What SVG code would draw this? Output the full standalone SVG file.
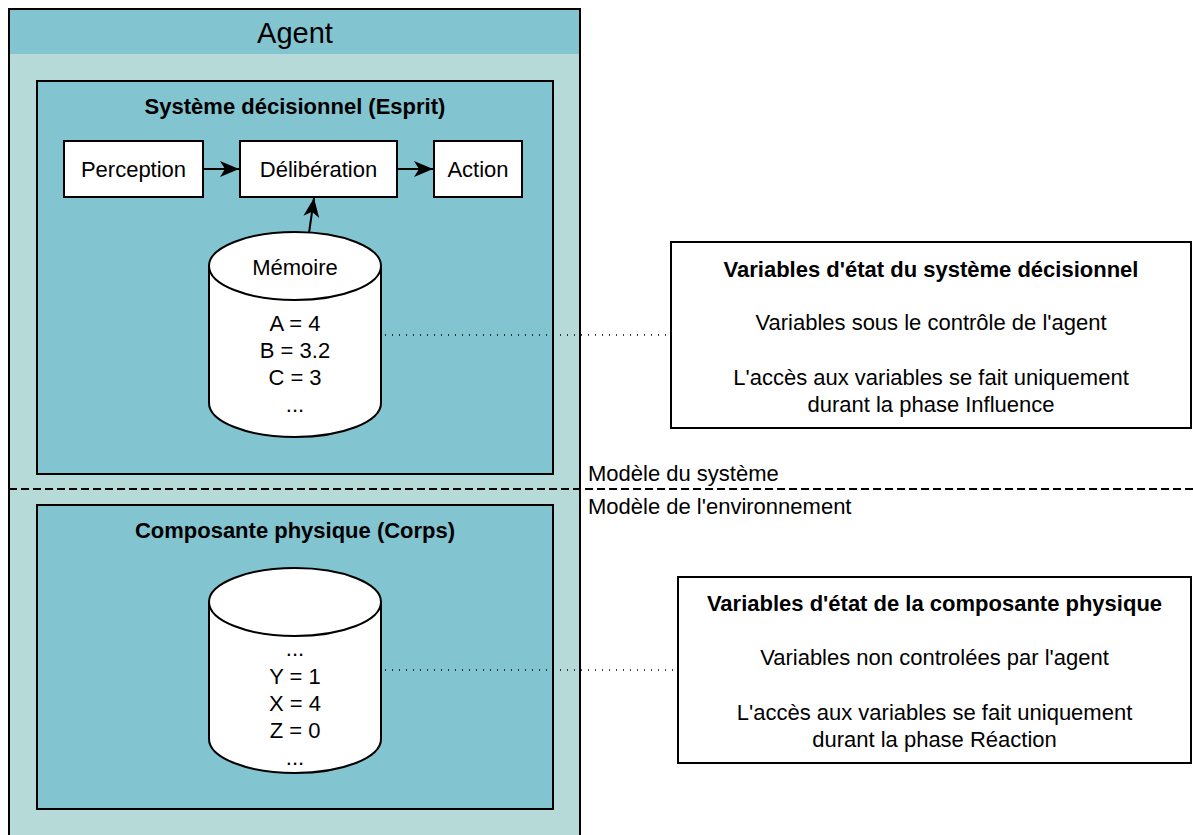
<svg xmlns="http://www.w3.org/2000/svg" width="1193" height="835" viewBox="0 0 1193 835">
<style>
text{font-family:"Liberation Sans",Arial,sans-serif;font-size:22px;fill:#000;text-anchor:middle}
.b{font-weight:bold}
.white{fill:#fff;stroke:#000;stroke-width:2}
.teal{fill:#82C4D0;stroke:#000;stroke-width:2}
.conn{stroke:#000;stroke-width:2;fill:none}
.dot{stroke:#000;stroke-width:1.5;stroke-dasharray:1 6;fill:none}
</style>
<defs>
<marker id="arr" markerUnits="userSpaceOnUse" markerWidth="22" markerHeight="18" refX="19" refY="8" orient="auto">
<path d="M0,0 L19,8 L0,16 L5,8 Z" fill="#000"/>
</marker>
</defs>
<rect width="1193" height="835" fill="#fff"/>
<g id="agent">
<rect x="9" y="9" width="571" height="840" fill="#B5DAD7" stroke="#000" stroke-width="2"/>
<rect x="10" y="10" width="569" height="44" fill="#82C4D0"/>
<text x="295" y="43" style="font-size:29px">Agent</text>
</g>
<g id="esprit">
<rect class="teal" x="37" y="81" width="516" height="393"/>
<text class="b" x="295" y="114">Système décisionnel (Esprit)</text>
</g>
<g id="corps">
<rect class="teal" x="37" y="505" width="516" height="304"/>
<text class="b" x="295" y="538">Composante physique (Corps)</text>
</g>
<g id="perception">
<rect class="white" x="64" y="141" width="139" height="56"/>
<text x="133.5" y="177">Perception</text>
</g>
<g id="deliberation">
<rect class="white" x="240" y="141" width="157" height="56"/>
<text x="318.5" y="177">Délibération</text>
</g>
<g id="action">
<rect class="white" x="434" y="141" width="88" height="56"/>
<text x="478" y="177">Action</text>
</g>
<g id="memoire">
<path class="white" d="M209,266 L209,403 A86,34 0 0 0 381,403 L381,266"/>
<ellipse class="white" cx="295" cy="266" rx="86" ry="34"/>
<text x="295" y="275">Mémoire</text>
<text x="295" y="331">A = 4</text>
<text x="295" y="358">B = 3.2</text>
<text x="295" y="385">C = 3</text>
<text x="295" y="412">...</text>
</g>
<g id="corps-db">
<path class="white" d="M209,602 L209,739 A86,34 0 0 0 381,739 L381,602"/>
<ellipse class="white" cx="295" cy="602" rx="86" ry="34"/>
<text x="295" y="656">...</text>
<text x="295" y="684">Y = 1</text>
<text x="295" y="711">X = 4</text>
<text x="295" y="738">Z = 0</text>
<text x="295" y="765">...</text>
</g>
<g id="note-esprit">
<rect class="white" x="671" y="242" width="520" height="186"/>
<text class="b" x="931" y="277">Variables d'état du système décisionnel</text>
<text x="931" y="330">Variables sous le contrôle de l'agent</text>
<text x="931" y="385">L'accès aux variables se fait uniquement</text>
<text x="931" y="412">durant la phase Influence</text>
</g>
<g id="note-corps">
<rect class="white" x="678" y="577" width="513" height="186"/>
<text class="b" x="934.5" y="611">Variables d'état de la composante physique</text>
<text x="934.5" y="665">Variables non controlées par l'agent</text>
<text x="934.5" y="720">L'accès aux variables se fait uniquement</text>
<text x="934.5" y="747">durant la phase Réaction</text>
</g>
<g id="boundary">
<line x1="9" y1="489" x2="1193" y2="489" stroke="#000" stroke-width="2" stroke-dasharray="8 4"/>
<text x="588" y="481" style="text-anchor:start">Modèle du système</text>
<text x="588" y="514" style="text-anchor:start">Modèle de l'environnement</text>
</g>
<g id="connectors">
<line class="conn" x1="203" y1="169" x2="239" y2="169" marker-end="url(#arr)"/>
<line class="conn" x1="397" y1="169" x2="433" y2="169" marker-end="url(#arr)"/>
<line class="conn" x1="309" y1="233" x2="314" y2="198" marker-end="url(#arr)"/>
<line class="dot" x1="385" y1="335" x2="671" y2="335"/>
<line class="dot" x1="385" y1="670" x2="678" y2="670"/>
</g>
</svg>
